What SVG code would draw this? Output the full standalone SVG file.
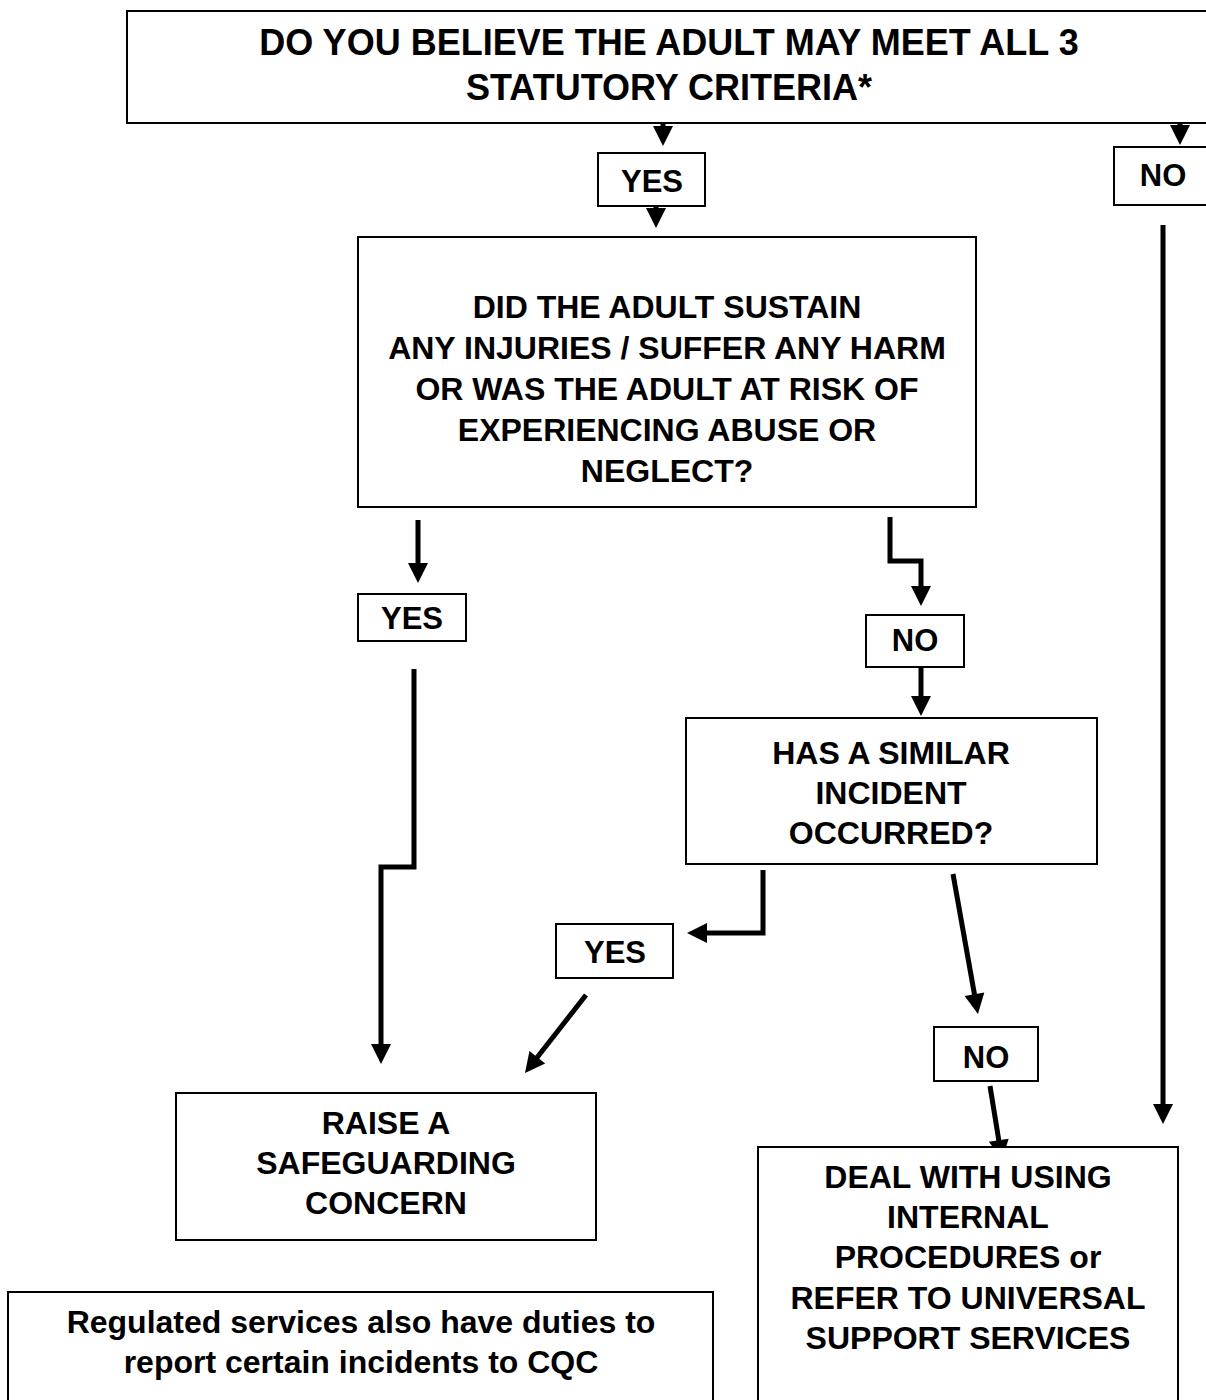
<svg xmlns="http://www.w3.org/2000/svg" width="1206" height="1400" viewBox="0 0 1206 1400">
<defs>
<style>
.box{fill:#fff;stroke:#000;stroke-width:2}
.t{font-family:"Liberation Sans",Arial,sans-serif;font-weight:bold;font-size:32px;text-anchor:middle;fill:#000}
.lbl{font-size:31px}
.big{font-size:36px}
.c{fill:none;stroke:#000;stroke-width:5;stroke-linejoin:miter;marker-end:url(#ah)}
</style>
<marker id="ah" markerUnits="userSpaceOnUse" markerWidth="20" markerHeight="20" refX="2" refY="10" orient="auto" overflow="visible">
<path d="M0,0 L20,10 L0,20 z" fill="#000"/>
</marker>
</defs>
<rect width="1206" height="1400" fill="#fff"/>
<g id="connectors">
<path class="c" d="M663,121 V128"/>
<path class="c" d="M1180,121 V127"/>
<path class="c" d="M656,202 V210"/>
<path class="c" d="M1163,225 V1106"/>
<path class="c" d="M418,520 V565"/>
<path class="c" d="M890,517 V561 H921 V588"/>
<path class="c" d="M921,668 V698"/>
<path class="c" d="M414,669 V867 H381 V1046"/>
<path class="c" d="M763,870 V933 H705"/>
<path class="c" d="M586,995 L536.1,1058.8"/>
<path class="c" d="M953,874 L974.8,996.3"/>
<path class="c" d="M990,1086 L999.1,1142.2"/>
</g>
<g id="n-top">
<rect class="box" x="127" y="11" width="1084" height="112" stroke-width="2.5"/>
<text class="t big" x="669" y="55">DO YOU BELIEVE THE ADULT MAY MEET ALL 3</text>
<text class="t big" x="669" y="100">STATUTORY CRITERIA*</text>
</g>
<g id="n-yes1">
<rect class="box" x="598" y="153" width="107" height="53"/>
<text class="t lbl" x="652" y="192">YES</text>
</g>
<g id="n-no1">
<rect class="box" x="1114" y="147" width="100" height="58"/>
<text class="t lbl" x="1163" y="186">NO</text>
</g>
<g id="n-did">
<rect class="box" x="358" y="237" width="618" height="270"/>
<text class="t" x="667" y="318">DID THE ADULT SUSTAIN</text>
<text class="t" x="667" y="359">ANY INJURIES / SUFFER ANY HARM</text>
<text class="t" x="667" y="400">OR WAS THE ADULT AT RISK OF</text>
<text class="t" x="667" y="441">EXPERIENCING ABUSE OR</text>
<text class="t" x="667" y="482">NEGLECT?</text>
</g>
<g id="n-yes2">
<rect class="box" x="358" y="594" width="108" height="47"/>
<text class="t lbl" x="412" y="629">YES</text>
</g>
<g id="n-no2">
<rect class="box" x="866" y="615" width="98" height="52"/>
<text class="t lbl" x="915" y="651">NO</text>
</g>
<g id="n-has">
<rect class="box" x="686" y="718" width="411" height="146"/>
<text class="t" x="891" y="764">HAS A SIMILAR</text>
<text class="t" x="891" y="804">INCIDENT</text>
<text class="t" x="891" y="844">OCCURRED?</text>
</g>
<g id="n-yes3">
<rect class="box" x="556" y="924" width="117" height="54"/>
<text class="t lbl" x="615" y="963">YES</text>
</g>
<g id="n-no3">
<rect class="box" x="934" y="1027" width="104" height="54"/>
<text class="t lbl" x="986" y="1068">NO</text>
</g>
<g id="n-raise">
<rect class="box" x="176" y="1093" width="420" height="147"/>
<text class="t" x="386" y="1134">RAISE A</text>
<text class="t" x="386" y="1174">SAFEGUARDING</text>
<text class="t" x="386" y="1214">CONCERN</text>
</g>
<g id="n-deal">
<rect class="box" x="758" y="1147" width="420" height="270"/>
<text class="t" x="968" y="1188">DEAL WITH USING</text>
<text class="t" x="968" y="1228">INTERNAL</text>
<text class="t" x="968" y="1268">PROCEDURES or</text>
<text class="t" x="968" y="1309">REFER TO UNIVERSAL</text>
<text class="t" x="968" y="1349">SUPPORT SERVICES</text>
</g>
<g id="n-cqc">
<rect class="box" x="8" y="1292" width="705" height="130"/>
<text class="t" x="361" y="1333">Regulated services also have duties to</text>
<text class="t" x="361" y="1373">report certain incidents to CQC</text>
</g>
</svg>
